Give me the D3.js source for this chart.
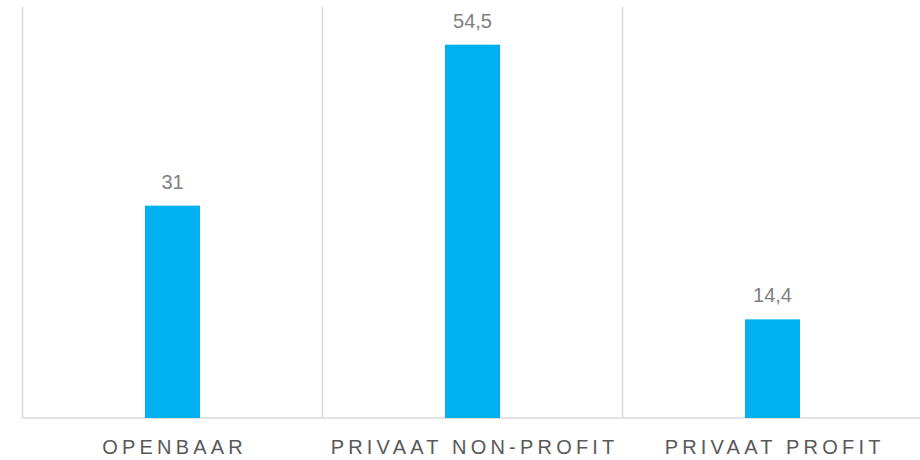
<!DOCTYPE html>
<html>
<head>
<meta charset="utf-8">
<script src="https://cdn.jsdelivr.net/npm/d3@7.9.0/dist/d3.min.js"></script>
<style>
  html, body { margin: 0; padding: 0; background: #fff; }
  svg { display: block; font-family: "Liberation Sans", Arial, Helvetica, sans-serif; }
</style>
</head>
<body>
<svg id="chart" width="920" height="460"></svg>
<script>
const categories = ['OPENBAAR', 'PRIVAAT NON-PROFIT', 'PRIVAAT PROFIT'];
const values = [31, 54.5, 14.4];
const valueLabels = ['31', '54,5', '14,4'];

const width = 920;
const height = 460;
const margin = { top: 7, right: -2.5, bottom: 42, left: 22.5 };

const svg = d3.select('#chart');

const x = d3.scaleBand()
  .domain(categories)
  .range([margin.left, width - margin.right])
  .paddingInner(0)
  .paddingOuter(0);

const y = d3.scaleLinear()
  .domain([0, 60])
  .range([height - margin.bottom, margin.top]);

const data = categories.map((c, i) => ({ cat: c, value: values[i], label: valueLabels[i] }));

// vertical separators between categories
svg.append('g')
  .selectAll('line')
  .data(categories)
  .join('line')
  .attr('x1', d => x(d))
  .attr('x2', d => x(d))
  .attr('y1', y(60))
  .attr('y2', y(0))
  .attr('stroke', '#d9d9d9')
  .attr('stroke-width', 1.5);

// baseline
svg.append('line')
  .attr('x1', margin.left)
  .attr('x2', width)
  .attr('y1', y(0))
  .attr('y2', y(0))
  .attr('stroke', '#d9d9d9')
  .attr('stroke-width', 1.5);

const barW = 55;

svg.append('g')
  .selectAll('rect')
  .data(data)
  .join('rect')
  .attr('x', d => x(d.cat) + x.bandwidth() / 2 - barW / 2)
  .attr('y', d => y(d.value))
  .attr('width', barW)
  .attr('height', d => y(0) - y(d.value))
  .attr('fill', '#00b0f0');

svg.append('g')
  .selectAll('text')
  .data(data)
  .join('text')
  .attr('x', d => x(d.cat) + x.bandwidth() / 2)
  .attr('y', d => y(d.value) - 17)
  .attr('text-anchor', 'middle')
  .attr('font-size', 20)
  .attr('fill', '#7f7f7f')
  .text(d => d.label);

const ls = 4.2;
svg.append('g')
  .selectAll('text')
  .data(categories)
  .join('text')
  .attr('x', d => x(d) + x.bandwidth() / 2 + ls / 2)
  .attr('y', 454)
  .attr('text-anchor', 'middle')
  .attr('font-size', 20)
  .attr('letter-spacing', ls)
  .attr('fill', '#595959')
  .text(d => d);
</script>
</body>
</html>
